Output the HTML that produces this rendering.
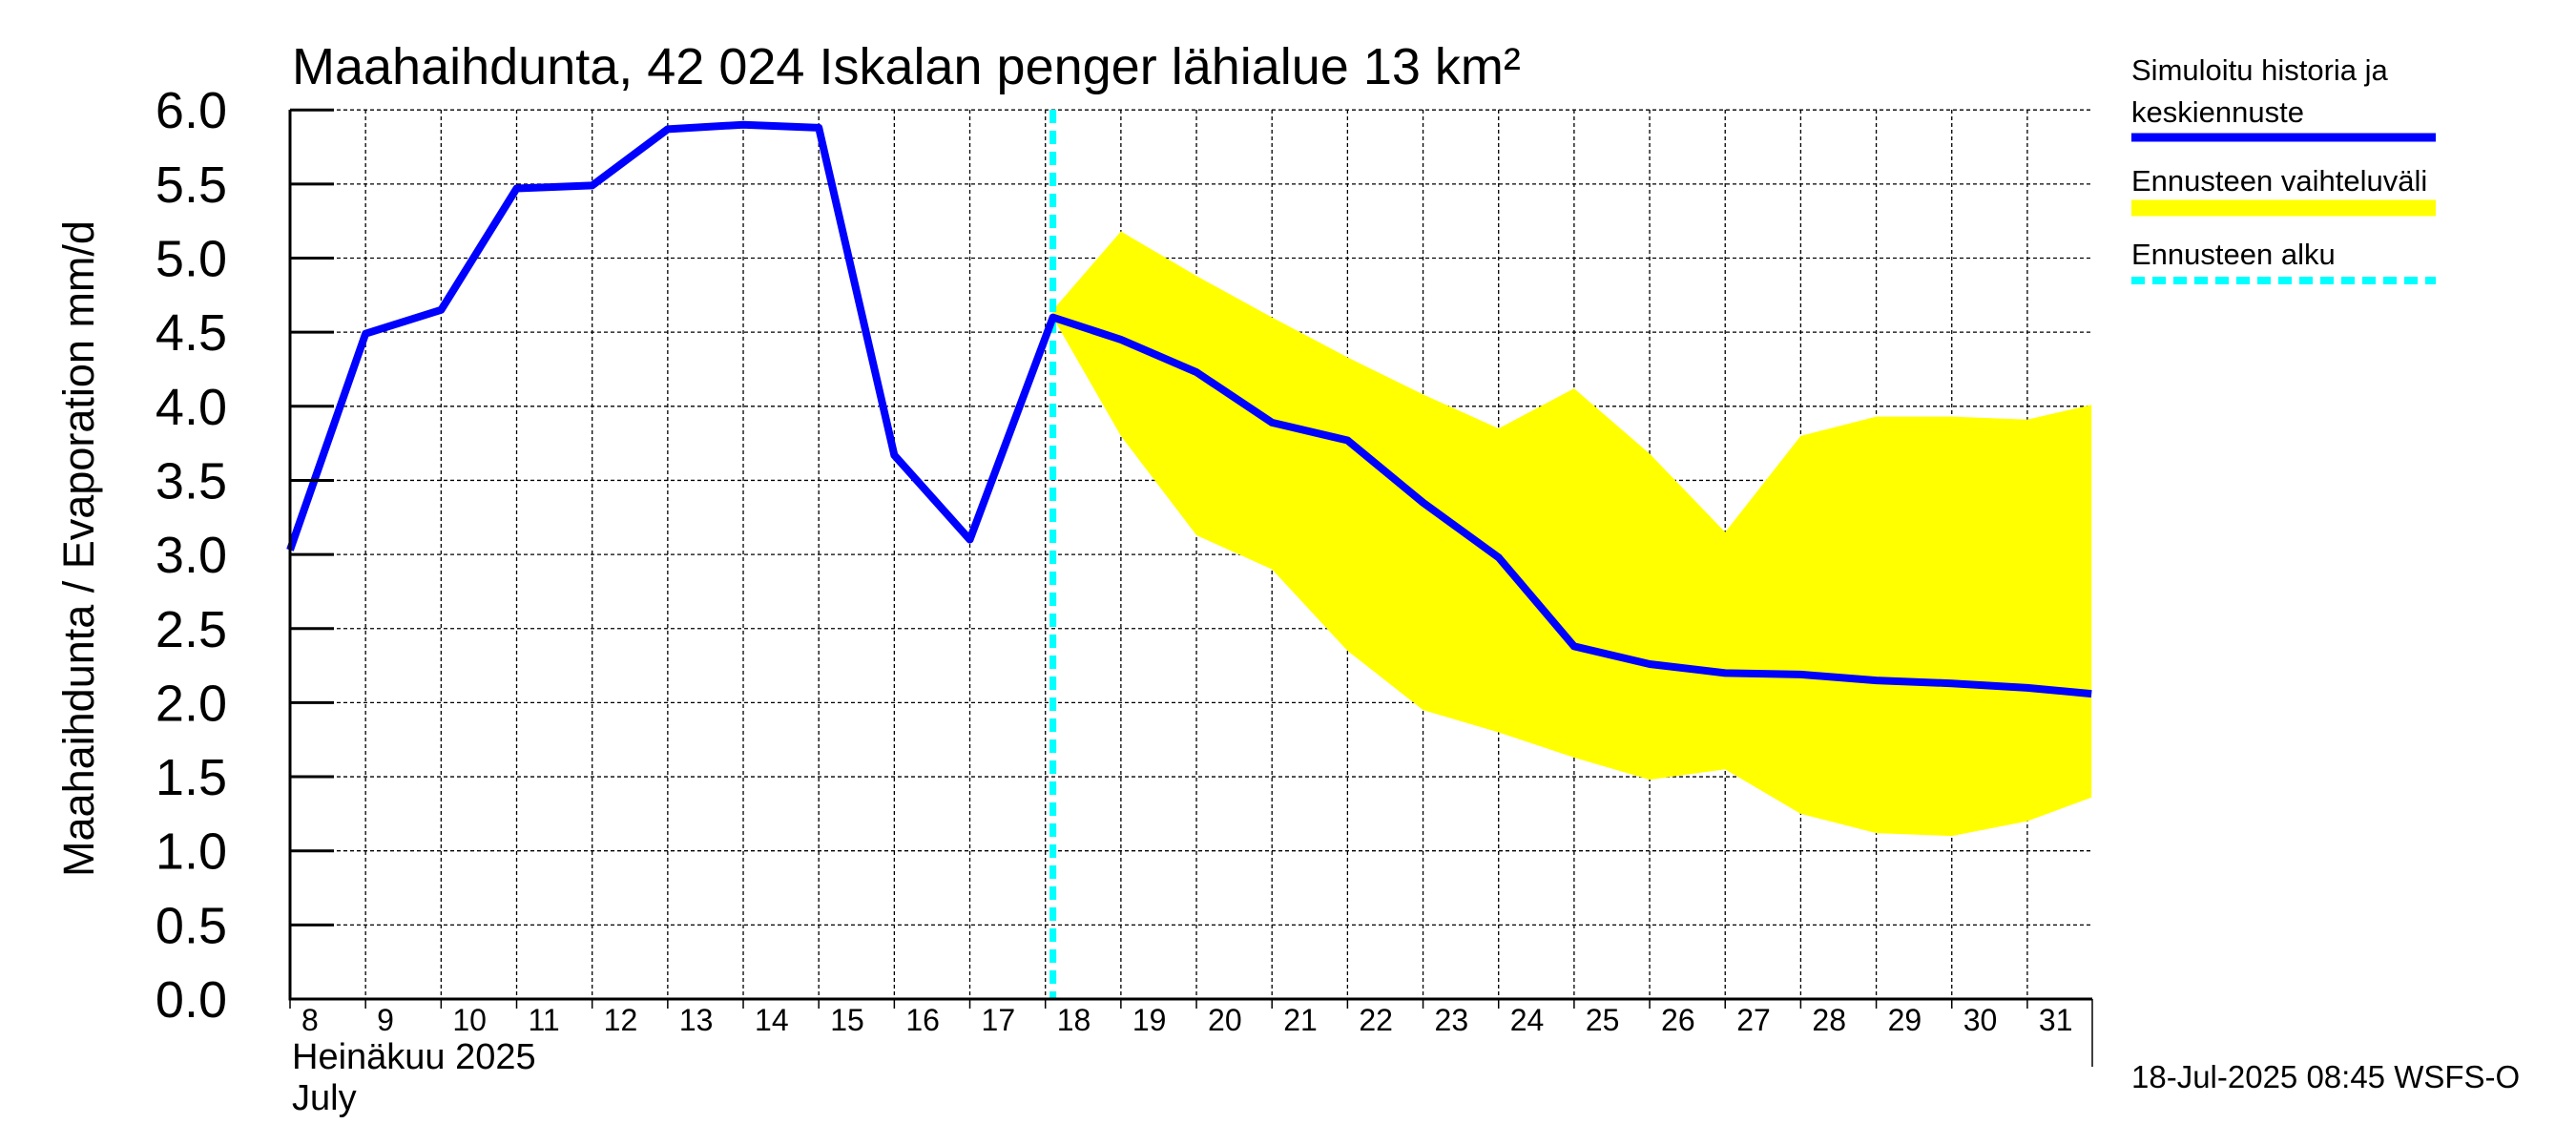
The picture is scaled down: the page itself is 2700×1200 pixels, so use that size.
<!DOCTYPE html>
<html><head><meta charset="utf-8"><style>
html,body{margin:0;padding:0;background:#fff;}
svg{display:block;font-family:"Liberation Sans",Arial,sans-serif;}
</style></head><body>
<svg id="chart" width="2700" height="1200" viewBox="0 0 2700 1200" xmlns="http://www.w3.org/2000/svg">
<rect width="2700" height="1200" fill="#fff"/>
<g id="grid"></g>
<g id="band"></g>
<g id="lines"></g>
<g id="axes"></g>
<text x="306" y="88" font-size="54">Maahaihdunta, 42 024 Iskalan penger lähialue 13 km²</text>
<text transform="translate(98,575) rotate(-90)" text-anchor="middle" font-size="45">Maahaihdunta / Evaporation   mm/d</text>
<text x="306" y="1120" font-size="38">Heinäkuu  2025</text>
<text x="306" y="1163" font-size="38">July</text>
<text x="2234" y="1140" font-size="33">18-Jul-2025 08:45 WSFS-O</text>
<g font-size="31">
<text x="2234" y="84">Simuloitu historia ja</text>
<text x="2234" y="128">keskiennuste</text>
<line x1="2234" y1="144" x2="2553" y2="144" stroke="#0000ff" stroke-width="9"/>
<text x="2234" y="200">Ennusteen vaihteluväli</text>
<line x1="2234" y1="218" x2="2553" y2="218" stroke="#ffff00" stroke-width="17"/>
<text x="2234" y="277">Ennusteen alku</text>
<line x1="2234" y1="294" x2="2553" y2="294" stroke="#00ffff" stroke-width="8" stroke-dasharray="14,8"/>
</g>
</svg>
<script>
const days = [8,9,10,11,12,13,14,15,16,17,18.1,19,20,21,22,23,24,25,26,27,28,29,30,31,31.85];
const mainValues = [3.03,4.49,4.65,5.47,5.49,5.87,5.9,5.88,3.67,3.1,4.6,4.45,4.23,3.89,3.77,3.35,2.98,2.38,2.26,2.2,2.19,2.15,2.13,2.1,2.06];
const bandDays = [18.1,19,20,21,22,23,24,25,26,27,28,29,30,31,31.85];
const bandUpper = [4.65,5.18,4.88,4.6,4.33,4.08,3.85,4.12,3.68,3.15,3.8,3.93,3.93,3.91,4.01];
const bandLower = [4.6,3.8,3.13,2.9,2.35,1.95,1.8,1.63,1.48,1.55,1.25,1.12,1.1,1.2,1.36];
const yTicks = ["0.0","0.5","1.0","1.5","2.0","2.5","3.0","3.5","4.0","4.5","5.0","5.5","6.0"];
const xTickDays = [8,9,10,11,12,13,14,15,16,17,18,19,20,21,22,23,24,25,26,27,28,29,30,31];
const forecastStart = 18.1;

const NS="http://www.w3.org/2000/svg";
const X0=304, DAYW=79.17, Y0=1047, YU=155.3, XR=2193, YT=115;
function xs(d){return X0+(d-8)*DAYW;}
function ys(v){return Y0-v*YU;}
function mk(tag,attrs,parent){const e=document.createElementNS(NS,tag);for(const k in attrs)e.setAttribute(k,attrs[k]);parent.appendChild(e);return e;}
const grid=document.getElementById('grid'),band=document.getElementById('band'),lines=document.getElementById('lines'),axes=document.getElementById('axes');

yTicks.forEach(t=>{const v=parseFloat(t),y=ys(v);
  if(v>0){const g=mk('line',{x1:X0,y1:y,x2:XR,y2:y,stroke:'#000','stroke-width':1.3,'stroke-dasharray':'4,3'},grid);
  
  }
  const tk=mk('line',{x1:X0,y1:y,x2:X0+46,y2:y,stroke:'#000','stroke-width':3},axes);
  
  
  const tx=mk('text',{x:238,y:y+19,'text-anchor':'end','font-size':54},axes);
  tx.textContent=t;
  
  
});
xTickDays.forEach(d=>{const x=xs(d);
  if(d>8){const g=mk('line',{x1:x,y1:YT,x2:x,y2:Y0,stroke:'#000','stroke-width':1.3,'stroke-dasharray':'4,3'},grid);
  
  }
  const tk=mk('line',{x1:x,y1:Y0,x2:x,y2:Y0+10,stroke:'#000','stroke-width':1.5},axes);
  
  
  const tx=mk('text',{x:x+12,y:1080,'font-size':32},axes);
  tx.textContent=String(d);
  
  
});
let pts=bandDays.map((d,i)=>xs(d)+','+ys(bandUpper[i]));
for(let i=bandDays.length-1;i>=0;i--)pts.push(xs(bandDays[i])+','+ys(bandLower[i]));
const poly=mk('polygon',{points:pts.join(' '),fill:'#ffff00'},band);



const fl=mk('line',{x1:xs(forecastStart),y1:YT,x2:xs(forecastStart),y2:Y0,stroke:'#00ffff','stroke-width':7,'stroke-dasharray':'14,8'},lines);


const ml=mk('polyline',{points:days.map((d,i)=>xs(d)+','+ys(mainValues[i])).join(' '),fill:'none',stroke:'#0000ff','stroke-width':8,'stroke-linejoin':'round'},lines);



const ax=mk('polyline',{points:`${X0},${YT} ${X0},${Y0} ${XR},${Y0}`,fill:'none',stroke:'#000','stroke-width':3},axes);


const rl=mk('line',{x1:XR,y1:Y0,x2:XR,y2:1118,stroke:'#000','stroke-width':1.5},axes);


</script>
</body></html>
